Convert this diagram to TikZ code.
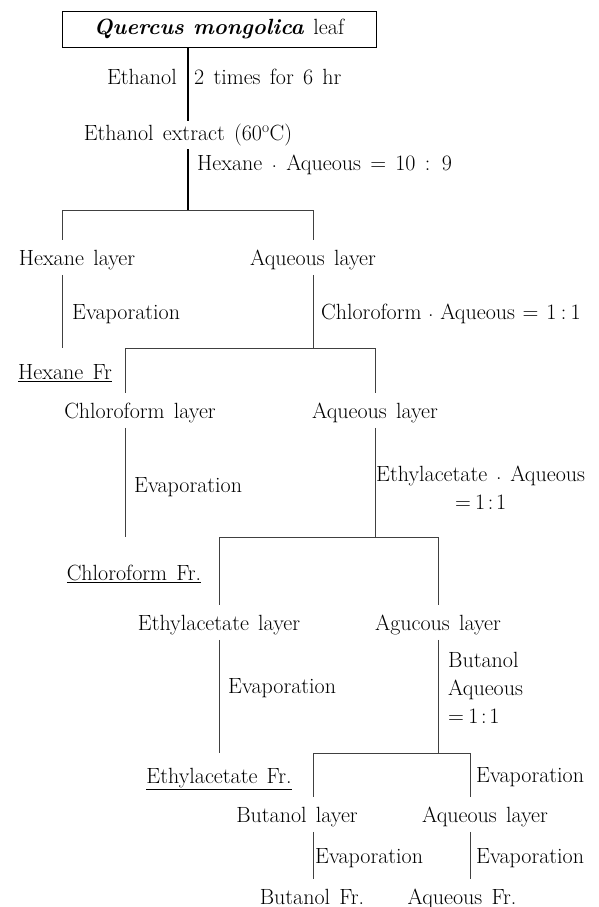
\documentclass[tikz,border=0pt]{standalone}
\usepackage{fontspec}
\usetikzlibrary{calc}

\newcommand{\lyrdot}{\raisebox{0.12em}{.}}
\newcommand{\lyrsep}{\hspace{0.4em}\lyrdot\hspace{0.4em}}
\newcommand{\lyrratio}{=\hspace{0.2em}1\hspace{0.12em}:\hspace{0.12em}1}
\newcommand{\lyrfont}{\fontsize{22}{26}\selectfont\spaceskip=0.42em plus 0.1em\relax}
\newcommand{\lyrfontm}{\fontsize{22}{28}\selectfont\spaceskip=0.42em plus 0.1em\relax}

\tikzset{
  txt/.style={inner sep=1pt, font=\lyrfont, text height=15.5pt, text depth=4.7pt},
  txtm/.style={inner sep=1pt, font=\lyrfontm},
  trunk/.style={draw=black, line width=1.2pt},
  link/.style={draw=black!75, line width=0.8pt},
  fromtxt/.style={shorten <=3.5pt},
  totxt/.style={shorten >=8.5pt},
}

\begin{document}
\begin{tikzpicture}[x=1pt,y=-1pt]
  \path[use as bounding box] (0,0) rectangle (599,907);

  % starting material and extraction
  \node[txt, draw, line width=0.8pt, minimum width=314pt, minimum height=36pt] (leaf) at (219,29)
    {\textbf{\textit{Quercus mongolica}} leaf};
  \node[txt, anchor=east] (eth) at (178,79) {Ethanol};
  \node[txt, anchor=west] (times) at (193,79) {2 times for 6 hr};
  \node[txt] (ext) at (188,135) {Ethanol extract (60\textsuperscript{o}C)};
  \node[txt, anchor=west] (hexaq) at (196,165) {Hexane \lyrdot\ Aqueous = 10 : 9};

  % split 1
  \node[txt] (hexL) at (77,260) {Hexane layer};
  \node[txt] (aqL1) at (313,260) {Aqueous layer};
  \node[txt, anchor=west] (evapA) at (71,314) {Evaporation};
  \node[txt, anchor=west] (chlaq) at (320,314)
    {Chloroform\hspace{0.3em}\lyrdot\hspace{0.3em}Aqueous\hspace{0.35em}=\hspace{0.35em}1\hspace{0.2em}:\hspace{0.2em}1};
  \node[txt] (hexFr) at (65,374) {\underline{Hexane Fr}};

  % split 2
  \node[txt] (chlL) at (140,413) {Chloroform layer};
  \node[txt] (aqL2) at (375,413) {Aqueous layer};
  \node[txt, anchor=west] (evapB) at (133,487) {Evaporation};
  \node[txtm, anchor=west, align=center] (ethaq) at (375,488) {Ethylacetate\lyrsep Aqueous\\\lyrratio};
  \node[txt] (chlFr) at (134,575) {\underline{Chloroform Fr.}};

  % split 3
  \node[txt] (ethL) at (219,625) {Ethylacetate layer};
  \node[txt] (aqL3) at (438,625) {Agucous layer};
  \node[txt, anchor=west] (evapC) at (227,688) {Evaporation};
  \node[txtm, anchor=west, align=left] (butaq) at (447,688) {Butanol\\Aqueous\\\lyrratio};
  \node[txt] (ethFr) at (219,778) {\underline{Ethylacetate Fr.}};
  \node[txt, anchor=west] (evapD) at (475,777) {Evaporation};

  % split 4
  \node[txt] (butL) at (297,817) {Butanol layer};
  \node[txt] (aqL4) at (485,817) {Aqueous layer};
  \node[txt, anchor=west] (evapE) at (314,858) {Evaporation};
  \node[txt, anchor=west] (evapF) at (475,858) {Evaporation};
  \node[txt] (butFr) at (312,899) {Butanol Fr.};
  \node[txt] (aqFr) at (462,899) {Aqueous Fr.};

  % bar ends
  \coordinate (b1l) at (62,210);  \coordinate (b1r) at (313,210);
  \coordinate (b2l) at (125,348); \coordinate (b2r) at (375,348);
  \coordinate (b3l) at (219,537); \coordinate (b3r) at (438,537);
  \coordinate (b4l) at (313,753); \coordinate (b4r) at (470,753);

  % trunk
  \draw[trunk] (leaf.south -| ext) -- ([yshift=3pt]ext.north);
  \draw[trunk] ([yshift=-3pt]ext.south) -- (b1l -| ext);

  % level 1
  \draw[link] (b1l) -- (b1r);
  \draw[link, totxt] (b1l) -- (hexL.north -| b1l);
  \draw[link, totxt] (b1r) -- (aqL1.north);
  \draw[link, fromtxt] (hexL.south -| b1l) -- (b2l -| b1l);
  \draw[link, fromtxt] (aqL1.south) -- (aqL1 |- b2l);

  % level 2
  \draw[link] (b2l) -- (b2r);
  \draw[link, totxt] (b2l) -- (chlL.north -| b2l);
  \draw[link, totxt] (b2r) -- (aqL2.north);
  \draw[link, fromtxt] (chlL.south -| b2l) -- (b3l -| b2l);
  \draw[link, fromtxt] (aqL2.south) -- (aqL2 |- b3l);

  % level 3
  \draw[link] (b3l) -- (b3r);
  \draw[link, totxt] (b3l) -- (ethL.north);
  \draw[link, totxt] (b3r) -- (aqL3.north);
  \draw[link, fromtxt] (ethL.south) -- (ethL |- b4l);
  \draw[link, fromtxt] (aqL3.south) -- (aqL3 |- b4l);

  % level 4
  \draw[link] (b4l) -- (b4r);
  \draw[link, totxt] (b4l) -- (butL.north -| b4l);
  \draw[link, totxt] (b4r) -- (aqL4.north -| b4r);
  \draw[link, fromtxt, totxt] (butL.south -| b4l) -- (butFr.north -| b4l);
  \draw[link, fromtxt, totxt] (aqL4.south -| b4r) -- (aqFr.north -| b4r);
\end{tikzpicture}
\end{document}
